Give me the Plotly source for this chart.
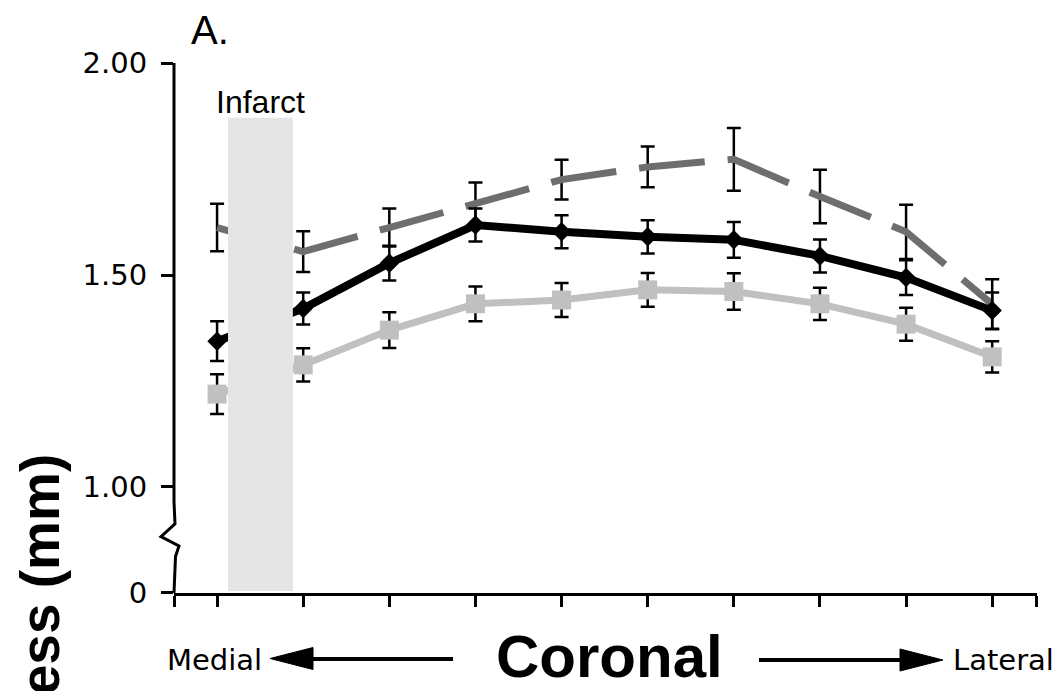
import plotly.graph_objects as go

# ---------------- data ----------------
positions = [1, 2, 3, 4, 5, 6, 7, 8, 9, 10]

black_vals = [1.344, 1.421, 1.528, 1.618, 1.602, 1.590, 1.583, 1.545, 1.494, 1.416]
black_err = [0.047, 0.038, 0.041, 0.039, 0.039, 0.039, 0.042, 0.039, 0.041, 0.043]

light_vals = [1.219, 1.288, 1.370, 1.432, 1.441, 1.465, 1.461, 1.432, 1.384, 1.307]
light_err = [0.047, 0.039, 0.042, 0.041, 0.040, 0.040, 0.043, 0.038, 0.039, 0.037]

dashed_vals = [1.612, 1.555, 1.612, 1.669, 1.725, 1.755, 1.773, 1.685, 1.602, 1.431]
dashed_err = [0.056, 0.048, 0.045, 0.049, 0.047, 0.048, 0.074, 0.063, 0.064, 0.059]

ytick_vals = [0.75, 1.0, 1.5, 2.0]
ytick_text = ["0", "1.00", "1.50", "2.00"]

x_range = [0.5, 10.52]
y_range = [0.75, 2.0]
infarct_x = [1.127, 1.88]
infarct_top = 1.871

# ---------------- layout geometry ----------------
W, H = 1063, 691
ML, MR, MT, MB = 174, 26, 63, 98
PW, PH = W - ML - MR, H - MT - MB


def px(X):
    return (X - ML) / PW


def py(Y):
    return (H - MB - Y) / PH


err_style = dict(type="data", color="black", thickness=2.5, width=7, visible=True)

dash_pattern = "57px,23px," + ",".join(["66px,23px"] * 12)

fig = go.Figure()

fig.add_trace(go.Scatter(
    x=positions, y=dashed_vals, mode="lines",
    line=dict(color="#6e6e6e", width=7, dash=dash_pattern),
    error_y=dict(array=dashed_err, **err_style),
    showlegend=False, hoverinfo="skip"))

fig.add_trace(go.Scatter(
    x=positions, y=light_vals, mode="lines+markers",
    line=dict(color="#c0c0c0", width=7),
    marker=dict(symbol="square", size=19, color="#c0c0c0"),
    error_y=dict(array=light_err, **err_style),
    showlegend=False, hoverinfo="skip"))

fig.add_trace(go.Scatter(
    x=positions, y=black_vals, mode="lines+markers",
    line=dict(color="black", width=8),
    marker=dict(symbol="diamond", size=15, color="black"),
    error_y=dict(array=black_err, **err_style),
    showlegend=False, hoverinfo="skip"))

shapes = []
# infarct region (drawn above the traces)
shapes.append(dict(type="rect", xref="x", yref="y",
                   x0=infarct_x[0], x1=infarct_x[1], y0=y_range[0] + 0.0045, y1=infarct_top,
                   fillcolor="#e5e5e5", line=dict(width=0), layer="above"))
# y axis line with break
shapes.append(dict(type="path", xref="paper", yref="y", xsizemode="pixel", xanchor=0,
                   path="M0,2.0 L0,0.965 L1,0.913 L-13,0.883 L5,0.861 L1.5,0.836 L0,0.75",
                   line=dict(color="black", width=3), layer="above"))

# arrows
arrow_y_left = py(659)
arrow_y_right = py(660)
shapes.append(dict(type="line", xref="paper", yref="paper",
                   x0=px(300), x1=px(453), y0=arrow_y_left, y1=arrow_y_left,
                   line=dict(color="black", width=4)))
shapes.append(dict(type="path", xref="paper", yref="paper",
                   path=f"M{px(270)},{py(658.5)} L{px(313)},{py(647.5)} L{px(313)},{py(669.5)} Z",
                   fillcolor="black", line=dict(color="black", width=1)))
shapes.append(dict(type="line", xref="paper", yref="paper",
                   x0=px(759), x1=px(905), y0=arrow_y_right, y1=arrow_y_right,
                   line=dict(color="black", width=4)))
shapes.append(dict(type="path", xref="paper", yref="paper",
                   path=f"M{px(943)},{py(660)} L{px(900)},{py(649)} L{px(900)},{py(671)} Z",
                   fillcolor="black", line=dict(color="black", width=1)))

annotations = [
    dict(text="A.", xref="paper", yref="paper", x=px(189), y=py(30),
         xanchor="left", yanchor="middle", showarrow=False,
         font=dict(family="Liberation Sans, Arial", size=40, color="black")),
    dict(text="Infarct", xref="paper", yref="paper", x=px(260.5), y=py(101.5),
         xanchor="center", yanchor="middle", showarrow=False,
         font=dict(family="Liberation Sans, Arial", size=32, color="black")),
    dict(text="Medial", xref="paper", yref="paper", x=px(264), y=py(660),
         xanchor="right", yanchor="middle", showarrow=False,
         font=dict(family="DejaVu Sans", size=29, color="black")),
    dict(text="Lateral", xref="paper", yref="paper", x=px(951), y=py(660),
         xanchor="left", yanchor="middle", showarrow=False,
         font=dict(family="DejaVu Sans", size=29, color="black")),
    dict(text="<b>Coronal</b>", xref="paper", yref="paper", x=px(609), y=py(656),
         xanchor="center", yanchor="middle", showarrow=False,
         font=dict(family="Liberation Sans, Arial", size=60, color="black")),
    dict(text="<b>Thickness (mm)</b>", xref="paper", yref="paper", x=px(39), y=py(452),
         xanchor="center", yanchor="top", showarrow=False, textangle=-90,
         font=dict(family="Liberation Sans, Arial", size=55, color="black")),
]

fig.update_layout(
    width=W, height=H,
    margin=dict(l=ML, r=MR, t=MT, b=MB, pad=0),
    paper_bgcolor="white", plot_bgcolor="white",
    showlegend=False,
    shapes=shapes, annotations=annotations,
    xaxis=dict(range=[x_range[0] - 0.0001, x_range[1] + 0.0001],
               tickmode="array", tickvals=[x_range[0]] + positions + [x_range[1]],
               showticklabels=False, ticks="outside", ticklen=11, tickwidth=3,
               tickcolor="black", showline=True, linecolor="black", linewidth=3,
               showgrid=False, zeroline=False),
    yaxis=dict(range=[y_range[0] - 0.0001, y_range[1] + 0.0001],
               tickmode="array", tickvals=ytick_vals, ticktext=ytick_text,
               ticks="outside", ticklen=12, tickwidth=3, tickcolor="black",
               ticklabelstandoff=8,
               showline=False, showgrid=False, zeroline=False,
               tickfont=dict(family="DejaVu Sans", size=29, color="black")),
)

fig.write_html("out.html")
